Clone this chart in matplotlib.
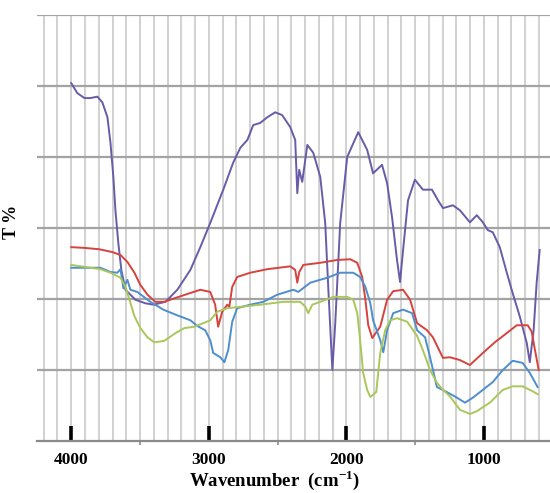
import matplotlib
matplotlib.use('Agg')
import matplotlib.pyplot as plt
import numpy as np

plt.rcParams['font.family'] = ['Liberation Serif', 'DejaVu Serif']
plt.rcParams['mathtext.fontset'] = 'custom'
plt.rcParams['mathtext.rm'] = 'Liberation Serif'
plt.rcParams['mathtext.bf'] = 'Liberation Serif:bold'

# traces: wavenumber (cm-1) and transmittance (arbitrary, 0-60)
purple_w = [4000, 3956, 3904, 3861, 3810, 3774, 3737, 3715, 3694, 3679, 3658, 3636, 3606, 3534,
            3462, 3403, 3315, 3229, 3134, 3062, 2990, 2895, 2823, 2771, 2720, 2677, 2626, 2575,
            2517, 2467, 2408, 2372, 2357, 2343, 2321, 2284, 2241, 2190, 2154, 2131, 2102, 2081,
            2045, 1994, 1914, 1849, 1806, 1741, 1704, 1668, 1632, 1610, 1588, 1552, 1502, 1444,
            1378, 1334, 1298, 1226, 1175, 1102, 1052, 1008, 972, 936, 885, 834, 791, 739, 689,
            667, 639, 617, 595]
purple_t = [50.4, 49.0, 48.3, 48.3, 48.5, 47.7, 45.6, 42.0, 37.2, 32.5, 27.9, 24.1, 21.3, 19.9,
            19.4, 19.2, 19.6, 21.3, 24.1, 27.3, 30.7, 35.4, 39.2, 41.3, 42.4, 44.5, 44.8, 45.6,
            46.3, 45.9, 44.2, 42.4, 34.9, 38.2, 36.5, 41.7, 40.6, 37.2, 30.7, 21.3, 10.0, 16.6,
            30.7, 40.0, 43.5, 41.0, 37.7, 38.9, 36.3, 31.5, 25.5, 22.4, 26.9, 33.9, 36.8, 35.4,
            35.4, 33.9, 32.8, 33.2, 32.5, 30.8, 31.8, 30.8, 29.7, 29.4, 27.3, 23.7, 20.8, 17.5, 13.8,
            11.1, 15.6, 22.3, 26.9]

red_w = [4000, 3904, 3794, 3700, 3642, 3591, 3541, 3498, 3446, 3389, 3324, 3250, 3157, 3062,
         2990, 2954, 2932, 2903, 2866, 2851, 2830, 2794, 2699, 2575, 2408, 2372, 2357, 2343,
         2313, 2190, 2066, 1972, 1921, 1885, 1862, 1841, 1812, 1754, 1704, 1660, 1588, 1537,
         1486, 1414, 1371, 1298, 1248, 1175, 1102, 1008, 921, 834, 762, 682, 653, 632, 602]
red_t = [27.3, 27.2, 27.0, 26.6, 26.2, 25.2, 23.7, 22.0, 20.6, 19.6, 19.6, 20.1, 20.7, 21.3,
         21.0, 19.2, 16.1, 18.2, 19.2, 18.9, 21.7, 23.1, 23.7, 24.2, 24.6, 24.1, 22.3, 23.8,
         24.8, 25.1, 25.5, 25.6, 25.1, 23.1, 19.9, 16.3, 14.5, 16.1, 19.9, 21.1, 21.3, 19.9,
         16.6, 15.6, 14.6, 11.7, 11.8, 11.4, 10.7, 12.4, 13.9, 15.2, 16.3, 16.3, 15.4, 13.1, 10.0]

blue_w = [4000, 3788, 3715, 3665, 3642, 3621, 3592, 3570, 3520, 3425, 3331, 3229, 3134, 3084,
          3026, 2990, 2968, 2917, 2887, 2859, 2830, 2794, 2699, 2604, 2503, 2386, 2350, 2262,
          2138, 2045, 1950, 1900, 1862, 1826, 1806, 1754, 1732, 1704, 1660, 1588, 1522, 1486,
          1428, 1392, 1342, 1270, 1196, 1138, 1081, 1008, 936, 863, 791, 719, 667, 610]
blue_t = [24.4, 24.4, 23.8, 23.7, 24.2, 21.5, 22.7, 21.3, 21.0, 19.6, 18.5, 17.7, 17.0, 16.2,
          15.6, 14.2, 12.4, 11.8, 11.1, 12.8, 16.8, 18.7, 19.2, 19.6, 20.6, 21.3, 21.0, 22.3,
          23.0, 23.7, 23.7, 23.1, 21.7, 19.4, 17.0, 14.2, 12.5, 15.6, 18.0, 18.5, 18.0, 15.6,
          14.6, 11.8, 7.6, 6.9, 6.1, 5.4, 6.1, 7.2, 8.3, 10.0, 11.3, 11.0, 9.6, 7.6]

green_w = [4000, 3788, 3715, 3642, 3606, 3577, 3541, 3498, 3446, 3396, 3324, 3250, 3178, 3105,
           3040, 2990, 2939, 2866, 2771, 2626, 2458, 2335, 2298, 2277, 2248, 2190, 2095, 1994,
           1950, 1921, 1900, 1878, 1849, 1826, 1783, 1754, 1718, 1682, 1632, 1558, 1486, 1444,
           1392, 1342, 1298, 1248, 1175, 1102, 1052, 957, 863, 791, 719, 646, 610]
green_t = [24.8, 24.2, 23.7, 23.0, 21.7, 19.9, 17.6, 15.9, 14.6, 13.9, 14.1, 15.1, 15.9, 16.1,
           16.6, 17.0, 18.2, 18.7, 18.9, 19.2, 19.6, 19.6, 18.9, 18.0, 19.2, 19.6, 20.3, 20.3,
           19.9, 18.0, 14.2, 9.6, 7.2, 6.2, 6.9, 12.4, 15.6, 17.0, 17.3, 16.8, 14.8, 12.8,
           10.0, 8.2, 7.2, 6.3, 4.4, 3.8, 4.2, 5.4, 7.2, 7.7, 7.7, 7.0, 6.6]

series = [
    (purple_w, purple_t, '#6a5ba8'),
    (red_w, red_t, '#d6433e'),
    (blue_w, blue_t, '#4e8ecc'),
    (green_w, green_t, '#a9c75a'),
]

fig = plt.figure(figsize=(5.5, 4.93), dpi=100)
ax = fig.add_axes([37 / 550, 52 / 493, 513 / 550, 426 / 493])

for w, t, c in series:
    ax.plot(w, t, color=c, lw=1.4, zorder=3, solid_joinstyle='round')

ax.set_xlim(4249, 520)
ax.set_ylim(0, 60)

# grid: light vertical lines every 100, darker horizontal lines
for v in np.arange(600, 4300, 100):
    ax.axvline(v, color='#c9c9c9', lw=1.2, zorder=1)
for h in np.arange(10, 61, 10):
    ax.axhline(h, color='#a3a3a3', lw=1.6, zorder=2)

for s in ['top', 'right', 'left']:
    ax.spines[s].set_visible(False)
ax.spines['bottom'].set_color('#8a8a8a')
ax.spines['bottom'].set_linewidth(1.6)

ax.set_xticks([4000, 3000, 2000, 1000])
ax.set_xticklabels(['4000', '3000', '2000', '1000'], fontweight='bold', fontsize=12.5)
ax.set_xticks([3500, 2500, 1500], minor=True)
ax.tick_params(axis='x', which='major', direction='in', length=11, width=2.6,
               color='black', pad=8)
ax.tick_params(axis='x', which='minor', direction='out', length=3, width=1.2, color='#8a8a8a')
ax.set_yticks([])

ax.set_xlabel(r'Wavenumber  (cm$^{\mathbf{-1}}$)', fontweight='bold', fontsize=13.5)
ax.xaxis.set_label_coords(0.464, -0.064)
ax.set_ylabel('T %', fontweight='bold', fontsize=13)
ax.yaxis.set_label_coords(-0.033, 0.514)

fig.savefig('out.png', dpi=100)
